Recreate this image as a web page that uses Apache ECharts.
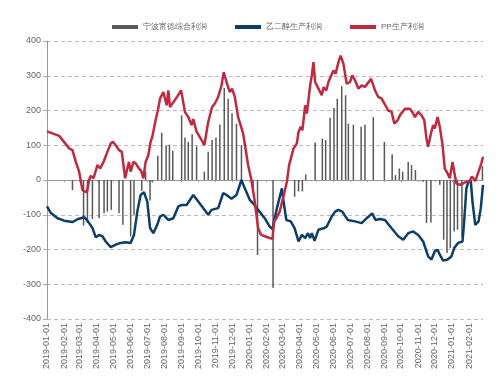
<!DOCTYPE html>
<html>
<head>
<meta charset="utf-8">
<script src="https://cdn.jsdelivr.net/npm/echarts@6/dist/echarts.min.js"></script>
<style>
html,body{margin:0;padding:0;background:#fff;}
#main{width:500px;height:376px;}
</style>
</head>
<body>
<div id="main"></div>
<script>
// 宁波富德综合利润 / 乙二醇 / PP 生产利润
var seriesNames = ['宁波富德综合利润', '乙二醇生产利润', 'PP生产利润'];

var yTicks = [-400, -300, -200, -100, 0, 100, 200, 300, 400];

// 综合利润（柱）
var barData = [
  ['2019-02-16', -29], ['2019-03-08', -131], ['2019-03-15', -124], ['2019-03-24', -112],
  ['2019-04-05', -110], ['2019-04-14', -96], ['2019-04-20', -91], ['2019-04-27', -86],
  ['2019-05-11', -96], ['2019-05-18', -129], ['2019-06-01', -162], ['2019-06-07', -100],
  ['2019-06-21', -31], ['2019-06-28', 24], ['2019-07-06', -59], ['2019-07-10', -7],
  ['2019-07-20', 70], ['2019-07-27', 136], ['2019-08-04', 99], ['2019-08-10', 102],
  ['2019-08-16', 84], ['2019-09-01', 186], ['2019-09-07', 122], ['2019-09-13', 110],
  ['2019-09-20', 132], ['2019-09-28', 97], ['2019-10-12', 24], ['2019-10-19', 81],
  ['2019-10-26', 115], ['2019-11-02', 122], ['2019-11-09', 160], ['2019-11-17', 265],
  ['2019-11-24', 234], ['2019-12-01', 192], ['2019-12-09', 162], ['2019-12-18', 101],
  ['2020-01-08', -37], ['2020-01-16', -216], ['2020-02-13', -310], ['2020-03-23', -48],
  ['2020-03-30', -33], ['2020-04-06', -33], ['2020-04-12', 16], ['2020-04-29', 108],
  ['2020-05-12', 119], ['2020-05-18', 115], ['2020-05-26', 179], ['2020-06-02', 207],
  ['2020-06-08', 234], ['2020-06-16', 270], ['2020-06-23', 244], ['2020-06-28', 162],
  ['2020-07-07', 159], ['2020-07-21', 153], ['2020-07-28', 159], ['2020-08-12', 181],
  ['2020-09-01', 110], ['2020-09-15', 74], ['2020-09-21', 14], ['2020-09-28', 33],
  ['2020-10-04', 24], ['2020-10-14', 52], ['2020-10-20', 43], ['2020-10-27', 29],
  ['2020-11-10', -5], ['2020-11-16', -124], ['2020-11-24', -122], ['2020-12-10', -14],
  ['2020-12-17', -172], ['2020-12-23', -210], ['2020-12-29', -196], ['2021-01-05', -148],
  ['2021-01-11', -143], ['2021-01-19', -165], ['2021-02-25', 40]
];

// 乙二醇生产利润
var megData = [
  ['2019-01-01', -76], ['2019-01-08', -95], ['2019-01-20', -110], ['2019-02-01', -117],
  ['2019-02-16', -121], ['2019-02-25', -113], ['2019-03-03', -110], ['2019-03-09', -107],
  ['2019-03-15', -117], ['2019-03-24', -138], ['2019-03-30', -165], ['2019-04-05', -158],
  ['2019-04-11', -162], ['2019-04-17', -177], ['2019-04-26', -193], ['2019-05-05', -186],
  ['2019-05-14', -181], ['2019-05-23', -179], ['2019-06-01', -181], ['2019-06-07', -158],
  ['2019-06-13', -91], ['2019-06-19', -43], ['2019-06-25', -35], ['2019-07-01', -62],
  ['2019-07-06', -138], ['2019-07-12', -153], ['2019-07-19', -129], ['2019-07-24', -105],
  ['2019-07-30', -100], ['2019-08-08', -115], ['2019-08-17', -110], ['2019-08-26', -76],
  ['2019-09-01', -72], ['2019-09-10', -72], ['2019-09-22', -43], ['2019-10-01', -62],
  ['2019-10-19', -100], ['2019-10-25', -86], ['2019-11-06', -81], ['2019-11-15', -38],
  ['2019-11-21', -43], ['2019-11-30', -54], ['2019-12-09', -43], ['2019-12-18', 0],
  ['2019-12-24', -24], ['2020-01-02', -57], ['2020-01-08', -67], ['2020-01-17', -86],
  ['2020-01-29', -110], ['2020-02-07', -134], ['2020-02-12', -141], ['2020-02-20', -81],
  ['2020-02-29', -24], ['2020-03-03', -62], ['2020-03-08', -115], ['2020-03-16', -119],
  ['2020-03-23', -139], ['2020-03-30', -177], ['2020-04-05', -158], ['2020-04-11', -167],
  ['2020-04-16', -153], ['2020-04-20', -167], ['2020-04-23', -153], ['2020-04-28', -175],
  ['2020-05-05', -143], ['2020-05-14', -139], ['2020-05-20', -134], ['2020-05-29', -105],
  ['2020-06-04', -91], ['2020-06-10', -86], ['2020-06-17', -91], ['2020-06-27', -115],
  ['2020-07-10', -119], ['2020-07-22', -124], ['2020-07-31', -110], ['2020-08-10', -96],
  ['2020-08-16', -115], ['2020-08-24', -112], ['2020-09-02', -115], ['2020-09-14', -139],
  ['2020-09-26', -162], ['2020-10-05', -172], ['2020-10-14', -153], ['2020-10-23', -148],
  ['2020-11-01', -158], ['2020-11-10', -177], ['2020-11-19', -220], ['2020-11-25', -229],
  ['2020-12-01', -205], ['2020-12-06', -201], ['2020-12-10', -215], ['2020-12-16', -232],
  ['2020-12-24', -229], ['2020-12-31', -220], ['2021-01-05', -196], ['2021-01-12', -181],
  ['2021-01-20', -177], ['2021-01-23', -119], ['2021-01-27', -24], ['2021-01-31', -3],
  ['2021-02-04', -3], ['2021-02-07', -62], ['2021-02-12', -129], ['2021-02-18', -119],
  ['2021-02-22', -81], ['2021-02-26', -14]
];

// PP生产利润
var ppData = [
  ['2019-01-01', 140], ['2019-01-23', 127], ['2019-02-10', 91], ['2019-02-16', 86],
  ['2019-02-22', 52], ['2019-02-28', 24], ['2019-03-06', -29], ['2019-03-09', -33],
  ['2019-03-14', -36], ['2019-03-18', 0], ['2019-03-21', 12], ['2019-03-26', 5],
  ['2019-04-02', 43], ['2019-04-07', 33], ['2019-04-13', 52], ['2019-04-20', 81],
  ['2019-04-26', 105], ['2019-04-30', 110], ['2019-05-05', 100], ['2019-05-11', 86],
  ['2019-05-16', 81], ['2019-05-22', 5], ['2019-05-26', 33], ['2019-05-29', 52],
  ['2019-06-01', 24], ['2019-06-06', 52], ['2019-06-10', 48], ['2019-06-16', 33],
  ['2019-06-20', 26], ['2019-06-24', 5], ['2019-06-28', 52], ['2019-07-03', 72],
  ['2019-07-07', 110], ['2019-07-10', 124], ['2019-07-16', 172], ['2019-07-20', 200],
  ['2019-07-24', 234], ['2019-07-30', 253], ['2019-08-05', 215], ['2019-08-08', 258],
  ['2019-08-11', 210], ['2019-08-17', 224], ['2019-08-24', 240], ['2019-08-31', 258],
  ['2019-09-07', 196], ['2019-09-13', 181], ['2019-09-19', 158], ['2019-09-22', 175],
  ['2019-09-28', 139], ['2019-10-07', 115], ['2019-10-12', 100], ['2019-10-19', 167],
  ['2019-10-26', 210], ['2019-10-31', 220], ['2019-11-06', 239], ['2019-11-12', 272],
  ['2019-11-16', 310], ['2019-11-21', 282], ['2019-11-27', 253], ['2019-12-01', 263],
  ['2019-12-06', 239], ['2019-12-12', 181], ['2019-12-21', 134], ['2019-12-30', 43],
  ['2020-01-05', 0], ['2020-01-11', -62], ['2020-01-17', -138], ['2020-01-22', -157],
  ['2020-01-29', -162], ['2020-02-07', -167], ['2020-02-12', -169], ['2020-02-15', -119],
  ['2020-02-19', -110], ['2020-02-25', -91], ['2020-03-02', -53], ['2020-03-09', -5],
  ['2020-03-13', 43], ['2020-03-21', 91], ['2020-03-27', 105], ['2020-03-30', 138],
  ['2020-04-03', 153], ['2020-04-06', 143], ['2020-04-11', 215], ['2020-04-14', 191],
  ['2020-04-20', 272], ['2020-04-23', 301], ['2020-04-26', 339], ['2020-04-29', 282],
  ['2020-05-05', 263], ['2020-05-11', 244], ['2020-05-14', 267], ['2020-05-19', 258],
  ['2020-05-23', 282], ['2020-05-28', 301], ['2020-06-01', 315], ['2020-06-05', 306],
  ['2020-06-10', 339], ['2020-06-14', 358], ['2020-06-17', 360], ['2020-06-19', 335],
  ['2020-06-25', 277], ['2020-07-01', 282], ['2020-07-05', 301], ['2020-07-10', 287],
  ['2020-07-16', 263], ['2020-07-22', 272], ['2020-07-28', 268], ['2020-08-08', 291],
  ['2020-08-15', 258], ['2020-08-21', 239], ['2020-08-27', 234], ['2020-09-08', 200],
  ['2020-09-14', 196], ['2020-09-19', 162], ['2020-09-25', 172], ['2020-09-29', 186],
  ['2020-10-08', 205], ['2020-10-17', 205], ['2020-10-23', 191], ['2020-10-26', 181],
  ['2020-11-01', 196], ['2020-11-07', 186], ['2020-11-12', 172], ['2020-11-16', 119],
  ['2020-11-19', 96], ['2020-11-24', 134], ['2020-11-28', 158], ['2020-12-01', 148],
  ['2020-12-06', 181], ['2020-12-10', 153], ['2020-12-15', 100], ['2020-12-19', 33],
  ['2020-12-24', 19], ['2020-12-28', 5], ['2021-01-02', 52], ['2021-01-05', 24],
  ['2021-01-09', -10], ['2021-01-15', -14], ['2021-01-21', -10], ['2021-01-27', -5],
  ['2021-02-02', -3], ['2021-02-06', 10], ['2021-02-12', -3], ['2021-02-18', 24],
  ['2021-02-23', 48], ['2021-02-26', 67]
];

// 日期类目（逐日）
var startDate = '2019-01-01';
var endDate = '2021-02-26';
var dates = [];
function pad(n) { return n < 10 ? '0' + n : '' + n; }
(function () {
  var t = Date.parse(startDate + 'T00:00:00Z');
  var e = Date.parse(endDate + 'T00:00:00Z');
  for (; t <= e; t += 86400000) {
    var d = new Date(t);
    dates.push(d.getUTCFullYear() + '-' + pad(d.getUTCMonth() + 1) + '-' + pad(d.getUTCDate()));
  }
})();
function isMonthStart(i, v) { return v.slice(8) === '01'; }

var myChart = echarts.init(document.getElementById('main'));
var font = 'Liberation Sans, Arial, sans-serif';

var option = {
  backgroundColor: '#fff',
  animation: false,
  textStyle: { fontFamily: font },
  legend: {
    left: 107,
    top: 18,
    itemWidth: 26,
    itemHeight: 4,
    itemGap: 28,
    textStyle: { color: '#666', fontSize: 8, fontFamily: font },
    data: [
      { name: seriesNames[0], icon: 'rect' },
      { name: seriesNames[1], icon: 'rect', itemStyle: { color: '#0c3e68' } },
      { name: seriesNames[2], icon: 'rect', itemStyle: { color: '#c02a40' } }
    ]
  },
  grid: { left: 47, right: 17, top: 41, bottom: 57, containLabel: false },
  xAxis: [
    {
      type: 'category',
      data: dates,
      boundaryGap: false,
      position: 'bottom',
      axisLine: { show: false, onZero: false },
      axisTick: { show: false },
      axisLabel: {
        interval: isMonthStart,
        rotate: 90,
        margin: 4,
        fontSize: 9,
        color: '#666',
        fontFamily: font
      },
      splitLine: { show: false }
    },
    {
      type: 'category',
      data: dates,
      boundaryGap: false,
      position: 'top',
      axisLine: { show: true, onZero: true, lineStyle: { color: '#999', width: 1 } },
      axisTick: { show: true, inside: true, length: 2, interval: isMonthStart, lineStyle: { color: '#999' } },
      axisLabel: { show: false },
      splitLine: { show: false }
    }
  ],
  yAxis: {
    type: 'value',
    min: -400,
    max: 400,
    interval: 100,
    axisLine: { show: true, lineStyle: { color: '#999' } },
    axisTick: { show: true, length: 4, lineStyle: { color: '#aaa' } },
    axisLabel: {
      margin: 6,
      fontSize: 9,
      color: '#666',
      fontFamily: font,
      formatter: function (v) { return yTicks.indexOf(v) >= 0 ? String(v) : ''; }
    },
    splitLine: { show: true, lineStyle: { color: '#bbb', type: [4, 3], width: 1 } }
  },
  series: [
    {
      name: seriesNames[0],
      type: 'bar',
      xAxisIndex: 0,
      barWidth: 1.5,
      itemStyle: { color: '#595959' },
      data: barData
    },
    {
      name: seriesNames[1],
      type: 'line',
      xAxisIndex: 0,
      showSymbol: false,
      symbol: 'none',
      lineStyle: { color: '#0c3e68', width: 2.5 },
      itemStyle: { color: '#0c3e68' },
      data: megData
    },
    {
      name: seriesNames[2],
      type: 'line',
      xAxisIndex: 0,
      showSymbol: false,
      symbol: 'none',
      lineStyle: { color: '#c02a40', width: 2.5 },
      itemStyle: { color: '#c02a40' },
      data: ppData
    }
  ]
};
myChart.setOption(option);
</script>
</body>
</html>
